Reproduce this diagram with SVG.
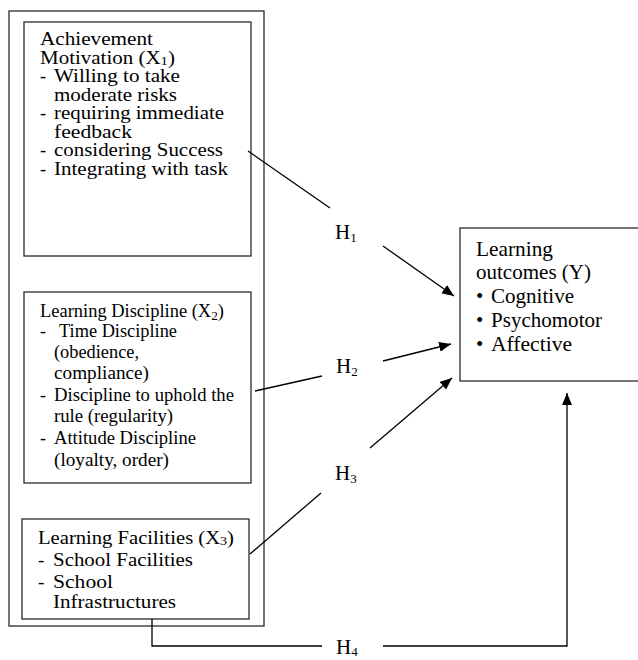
<svg xmlns="http://www.w3.org/2000/svg" width="638" height="660" viewBox="0 0 638 660">
<style>
.box{fill:#fff;stroke:#2b2b2b;stroke-width:1.3}
.t{font-family:"Liberation Serif","Times New Roman",serif;fill:#000}
.f18{font-size:18.5px}
.f17{font-size:18px}
.f19{font-size:19px}
.f20{font-size:21px}
.h{font-size:21px}
.sub{font-size:13px}
.ln{fill:none;stroke:#000;stroke-width:1.3}
</style>
<defs>
<marker id="arr" markerUnits="userSpaceOnUse" markerWidth="13" markerHeight="11" refX="12" refY="5" orient="auto">
<path d="M0,0 L12,5 L0,10 z" fill="#000"/>
</marker>
</defs>
<rect x="9" y="11" width="255" height="615" fill="#fff" stroke="#2b2b2b" stroke-width="1.3"/>
<g id="x1">
<rect class="box" x="24" y="22" width="227" height="234"/>
<text class="t f18" x="40" y="45" textLength="113" lengthAdjust="spacingAndGlyphs">Achievement</text>
<text class="t f18" x="40" y="63.5" textLength="135" lengthAdjust="spacingAndGlyphs">Motivation (X<tspan class="sub" dy="1">1</tspan><tspan dy="-1">)</tspan></text>
<text class="t f18" x="40" y="82">-</text>
<text class="t f18" x="54" y="82" textLength="126" lengthAdjust="spacingAndGlyphs">Willing to take</text>
<text class="t f18" x="54" y="100.5" textLength="123" lengthAdjust="spacingAndGlyphs">moderate risks</text>
<text class="t f18" x="40" y="119">-</text>
<text class="t f18" x="54" y="119" textLength="170" lengthAdjust="spacingAndGlyphs">requiring immediate</text>
<text class="t f18" x="54" y="137.5" textLength="78" lengthAdjust="spacingAndGlyphs">feedback</text>
<text class="t f18" x="40" y="156">-</text>
<text class="t f18" x="54" y="156" textLength="169" lengthAdjust="spacingAndGlyphs">considering Success</text>
<text class="t f18" x="40" y="175">-</text>
<text class="t f18" x="54" y="175" textLength="174" lengthAdjust="spacingAndGlyphs">Integrating with task</text>
</g>
<g id="x2">
<rect class="box" x="24" y="292" width="227" height="191"/>
<text class="t f17" x="40" y="316.5" textLength="184" lengthAdjust="spacingAndGlyphs">Learning Discipline (X<tspan class="sub" dy="3">2</tspan><tspan dy="-3">)</tspan></text>
<text class="t f17" x="40" y="337">-</text>
<text class="t f17" x="59" y="337" textLength="118" lengthAdjust="spacingAndGlyphs">Time Discipline</text>
<text class="t f17" x="54" y="358" textLength="85" lengthAdjust="spacingAndGlyphs">(obedience,</text>
<text class="t f17" x="54" y="379" textLength="95" lengthAdjust="spacingAndGlyphs">compliance)</text>
<text class="t f17" x="40" y="400.5">-</text>
<text class="t f17" x="54" y="400.5" textLength="180" lengthAdjust="spacingAndGlyphs">Discipline to uphold the</text>
<text class="t f17" x="54" y="422" textLength="119" lengthAdjust="spacingAndGlyphs">rule (regularity)</text>
<text class="t f17" x="40" y="444">-</text>
<text class="t f17" x="54" y="444" textLength="142" lengthAdjust="spacingAndGlyphs">Attitude Discipline</text>
<text class="t f17" x="54" y="465.5" textLength="115" lengthAdjust="spacingAndGlyphs">(loyalty, order)</text>
</g>
<g id="x3">
<rect class="box" x="22" y="519" width="227" height="100"/>
<text class="t f19" x="38" y="544" textLength="196" lengthAdjust="spacingAndGlyphs">Learning Facilities (X<tspan class="sub" dy="1">3</tspan><tspan dy="-1">)</tspan></text>
<text class="t f19" x="38" y="566">-</text>
<text class="t f19" x="53" y="566" textLength="140" lengthAdjust="spacingAndGlyphs">School Facilities</text>
<text class="t f19" x="38" y="587.5">-</text>
<text class="t f19" x="53" y="587.5" textLength="60" lengthAdjust="spacingAndGlyphs">School</text>
<text class="t f19" x="53" y="608" textLength="123" lengthAdjust="spacingAndGlyphs">Infrastructures</text>
</g>
<g id="y">
<rect class="box" x="460" y="228" width="190" height="153"/>
<text class="t f20" x="476" y="256" textLength="77" lengthAdjust="spacingAndGlyphs">Learning</text>
<text class="t f20" x="476" y="279" textLength="115" lengthAdjust="spacingAndGlyphs">outcomes (Y)</text>
<text class="t f20" x="476" y="303">•</text>
<text class="t f20" x="491" y="303" textLength="83" lengthAdjust="spacingAndGlyphs">Cognitive</text>
<text class="t f20" x="476" y="326.5">•</text>
<text class="t f20" x="491" y="326.5" textLength="111" lengthAdjust="spacingAndGlyphs">Psychomotor</text>
<text class="t f20" x="476" y="350.5">•</text>
<text class="t f20" x="491" y="350.5" textLength="81" lengthAdjust="spacingAndGlyphs">Affective</text>
</g>
<g id="connectors">
<line class="ln" x1="248" y1="151" x2="330" y2="208"/>
<line class="ln" x1="383" y1="246" x2="454" y2="296" marker-end="url(#arr)"/>
<line class="ln" x1="255" y1="391" x2="322" y2="376"/>
<line class="ln" x1="383" y1="361" x2="451" y2="344" marker-end="url(#arr)"/>
<line class="ln" x1="250" y1="554" x2="321" y2="493"/>
<line class="ln" x1="370" y1="448" x2="452" y2="378" marker-end="url(#arr)"/>
<polyline class="ln" points="152,619 152,646 322,646"/>
<polyline class="ln" points="383,646 567,646 567,393" marker-end="url(#arr)"/>
<text class="t h" x="335" y="239">H<tspan class="sub" dy="3">1</tspan></text>
<text class="t h" x="336" y="373">H<tspan class="sub" dy="3">2</tspan></text>
<text class="t h" x="335" y="480">H<tspan class="sub" dy="3">3</tspan></text>
<text class="t h" x="336" y="654">H<tspan class="sub" dy="2">4</tspan></text>
</g>
</svg>
